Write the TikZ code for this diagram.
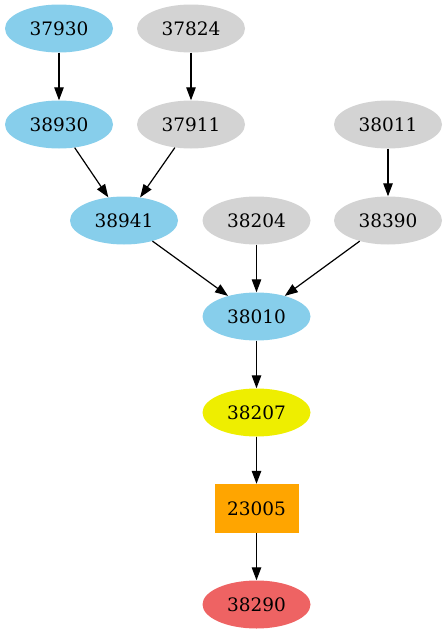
\documentclass[tikz,border=0pt]{standalone}
\usepackage{fontspec}
\setmainfont{DejaVu Serif}
\usetikzlibrary{arrows.meta,shapes.geometric}
\definecolor{cblue}{HTML}{87CEEB}
\definecolor{cgray}{HTML}{D3D3D3}
\definecolor{cyel}{HTML}{EEEE00}
\definecolor{corange}{HTML}{FFA500}
\definecolor{cred}{HTML}{EE6363}
\begin{document}
\begin{tikzpicture}[x=1pt,y=1pt,
  every node/.style={font=\fontsize{18.5}{20}\selectfont, inner sep=0pt},
  ell/.style={ellipse, minimum width=108pt, minimum height=48pt},
  blue/.style={ell, fill=cblue},
  grey/.style={ell, fill=cgray},
  box/.style={rectangle, fill=corange, minimum width=84pt, minimum height=49pt},
  edge/.style={line width=1.2pt, -{Triangle[length=13pt,width=9.5pt]}}]
\useasboundingbox (0,0) rectangle (447,-635);
\node[blue] (n37930) at (59,-28.5) {37930};
\node[grey] (n37824) at (191,-28.5) {37824};
\node[blue] (n38930) at (59,-124.5) {38930};
\node[grey] (n37911) at (191,-124.5) {37911};
\node[grey] (n38011) at (388,-124.5) {38011};
\node[blue] (n38941) at (124,-220.5) {38941};
\node[grey] (n38204) at (256.5,-220.5) {38204};
\node[grey] (n38390) at (388,-220.5) {38390};
\node[blue] (n38010) at (256.5,-316.5) {38010};
\node[ell, fill=cyel] (n38207) at (256.5,-412.5) {38207};
\node[box] (n23005) at (256.5,-508.5) {23005};
\node[ell, fill=cred] (n38290) at (256.5,-604.5) {38290};
\draw[edge] (n37930) -- (n38930);
\draw[edge] (n37824) -- (n37911);
\draw[edge] (n38930) -- (n38941);
\draw[edge] (n37911) -- (n38941);
\draw[edge] (n38011) -- (n38390);
\draw[edge] (n38941) -- (n38010);
\draw[edge] (n38204) -- (n38010);
\draw[edge] (n38390) -- (n38010);
\draw[edge] (n38010) -- (n38207);
\draw[edge] (n38207) -- (n23005);
\draw[edge] (n23005) -- (n38290);
\end{tikzpicture}
\end{document}
